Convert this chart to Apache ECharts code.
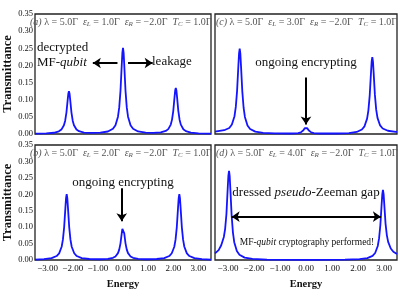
<!DOCTYPE html>
<html><head><meta charset="utf-8">
<script src="https://cdn.jsdelivr.net/npm/echarts@6/dist/echarts.min.js"></script>
<style>html,body{margin:0;padding:0;background:#fff}#c{width:399px;height:291px}</style>
</head><body><div id="c"></div>
<script>
// ---- data ----
const xTicks = [-3, -2, -1, 0, 1, 2, 3];
const yTicks = [0, 0.05, 0.10, 0.15, 0.20, 0.25, 0.30, 0.35];

const energyA = [-3.5,-3.05,-2.75,-2.55,-2.45,-2.35,-2.3,-2.25,-2.2,-2.175,-2.15,-2.125,-2.1,-2.05,-2.0,-1.95,-1.85,-1.75,-1.55,-1.25,-0.9,-0.6,-0.4,-0.3,-0.2,-0.15,-0.1,-0.05,-0.025,0,0.025,0.05,0.1,0.15,0.2,0.3,0.4,0.6,0.9,1.2,1.5,1.7,1.8,1.9,1.95,2.0,2.05,2.075,2.1,2.125,2.15,2.2,2.25,2.3,2.4,2.5,2.7,3.0,3.5];
const transA  = [0.001,0.0018,0.0036,0.0077,0.0128,0.0253,0.0387,0.0625,0.0997,0.1172,0.1245,0.1172,0.0998,0.0626,0.0388,0.0254,0.0131,0.0081,0.0043,0.0031,0.0039,0.0073,0.0152,0.0254,0.0505,0.0776,0.1258,0.2011,0.2365,0.2516,0.2365,0.2011,0.1258,0.0776,0.0505,0.0254,0.0153,0.0074,0.004,0.0033,0.0047,0.0088,0.0142,0.0275,0.042,0.0676,0.1078,0.1267,0.1346,0.1267,0.1077,0.0675,0.0418,0.0273,0.014,0.0084,0.0041,0.0019,0.0009];

const energyB = [-3.5,-3.14,-2.84,-2.64,-2.54,-2.44,-2.39,-2.34,-2.29,-2.265,-2.24,-2.215,-2.19,-2.14,-2.09,-2.04,-1.94,-1.84,-1.64,-1.34,-0.9,-0.6,-0.4,-0.3,-0.2,-0.15,-0.1,-0.05,-0.025,0,0.025,0.05,0.1,0.15,0.2,0.3,0.4,0.6,0.9,1.34,1.64,1.84,1.94,2.04,2.09,2.14,2.19,2.215,2.24,2.265,2.29,2.34,2.39,2.44,2.54,2.64,2.84,3.14,3.5];
const transB  = [0.0014,0.0027,0.0057,0.0121,0.0203,0.0403,0.0619,0.1003,0.1603,0.1885,0.2003,0.1885,0.1603,0.1003,0.0619,0.0403,0.0205,0.0121,0.0058,0.003,0.0023,0.0034,0.0068,0.0108,0.0208,0.0316,0.0508,0.0808,0.0949,0.1008,0.0949,0.0808,0.0508,0.0316,0.0208,0.0108,0.0068,0.0034,0.0023,0.003,0.0058,0.0121,0.0205,0.0403,0.0619,0.1003,0.1603,0.1885,0.2003,0.1885,0.1603,0.1003,0.0619,0.0403,0.0203,0.0121,0.0057,0.0027,0.0014];

const energyC = [-3.5,-3.45,-3.15,-2.95,-2.85,-2.75,-2.7,-2.65,-2.6,-2.575,-2.55,-2.525,-2.5,-2.45,-2.4,-2.35,-2.25,-2.15,-1.95,-1.65,-1.2,-0.6,-0.4,-0.3,-0.2,-0.1,-0.05,0,0.05,0.1,0.2,0.3,0.4,0.6,1.2,1.65,1.95,2.15,2.25,2.35,2.4,2.45,2.5,2.525,2.55,2.575,2.6,2.65,2.7,2.75,2.85,2.95,3.15,3.45,3.5];
const transC  = [0.007,0.0075,0.011,0.0175,0.0275,0.052,0.079,0.1265,0.2005,0.2352,0.249,0.2343,0.1992,0.1245,0.0767,0.0498,0.0249,0.0146,0.0068,0.003,0.0017,0.0014,0.002,0.0028,0.0048,0.0108,0.0168,0.0207,0.0168,0.0108,0.0048,0.0028,0.002,0.0014,0.0015,0.0027,0.006,0.0132,0.0224,0.0448,0.069,0.112,0.1792,0.2108,0.224,0.2118,0.1812,0.114,0.071,0.047,0.025,0.016,0.0095,0.0065,0.0062];

const energyD = [-3.5,-3.36,-3.26,-3.16,-3.11,-3.06,-3.01,-2.985,-2.96,-2.935,-2.91,-2.86,-2.81,-2.76,-2.66,-2.56,-2.36,-2.06,-1.5,0,1.5,2.06,2.36,2.56,2.66,2.76,2.81,2.86,2.91,2.935,2.96,2.985,3.01,3.06,3.11,3.16,3.26,3.36,3.5];
const transD  = [0.02,0.03,0.045,0.07,0.095,0.14,0.22,0.257,0.271,0.255,0.217,0.1355,0.0835,0.0542,0.0271,0.0159,0.0073,0.0033,0.0013,0.0006,0.0011,0.0026,0.0058,0.0125,0.0213,0.0426,0.0656,0.1065,0.1704,0.2004,0.213,0.2004,0.17,0.11,0.075,0.055,0.035,0.025,0.018];

const panelLetters = ['a', 'c', 'b', 'd'];
const epsL = ['1.0', '3.0', '2.0', '4.0'];

// ---- chart ----
const SERIF = '"Liberation Serif", "DejaVu Serif", serif';
const chart = echarts.init(document.getElementById('c'), null, {renderer: 'canvas'});
const grids = [
  {left: 29, top: 14, width: 182, height: 120},
  {left: 215, top: 14, width: 182, height: 120},
  {left: 29, top: 145, width: 182, height: 119},
  {left: 215, top: 145, width: 182, height: 119}
];
const fmtX = v => (v < 0 ? '\u2212' : '') + Math.abs(v).toFixed(2);
const xAxes = grids.map((g, i) => ({
  type: 'value', gridIndex: i, min: -3.5, max: 3.5,
  axisLine: {show: false}, axisTick: {show: false}, splitLine: {show: false},
  axisLabel: {show: i >= 2, customValues: xTicks, formatter: fmtX, fontFamily: SERIF, fontSize: 9, color: '#111', margin: 4},
  name: i >= 2 ? 'Energy' : '', nameLocation: 'middle', nameGap: 19,
  nameTextStyle: {fontFamily: SERIF, fontWeight: 'bold', fontSize: 10.5, color: '#111'}
}));
const yAxes = grids.map((g, i) => ({
  type: 'value', gridIndex: i, min: 0, max: 0.35, interval: 0.05,
  axisLine: {show: false}, axisTick: {show: false}, splitLine: {show: false},
  axisLabel: {show: i % 2 === 0, formatter: v => v.toFixed(2), fontFamily: SERIF, fontSize: 8.5, color: '#111', margin: 2},
  name: i % 2 === 0 ? 'Transmittance' : '', nameLocation: 'middle', nameRotate: 90, nameGap: 21,
  nameTextStyle: {fontFamily: SERIF, fontWeight: 'bold', fontSize: 12.5, color: '#111'}
}));
const zip = (xs, ys) => xs.map((x, k) => [x, ys[k]]);
const arrowStyle = {color: '#000', width: 2, type: 'solid'};
function ml(lines, symbols) {
  return {silent: true, animation: false, symbol: symbols, symbolSize: 8, label: {show: false},
    lineStyle: arrowStyle, data: lines.map(l => [{coord: l[0]}, {coord: l[1]}])};
}
const series = [
  {data: zip(energyA, transA), markLine: ml([[[-0.22, 0.207], [-1.2, 0.207]], [[0.2, 0.207], [1.18, 0.207]]], ['none', 'arrow'])},
  {data: zip(energyC, transC), markLine: ml([[[0, 0.165], [0, 0.028]]], ['none', 'arrow'])},
  {data: zip(energyB, transB), markLine: ml([[[-0.05, 0.218], [-0.05, 0.118]]], ['none', 'arrow'])},
  {data: zip(energyD, transD), markLine: ml([[[-2.86, 0.132], [2.88, 0.132]]], ['arrow', 'arrow'])}
].map((s, i) => Object.assign({
  type: 'line', xAxisIndex: i, yAxisIndex: i, showSymbol: false, symbol: 'none',
  lineStyle: {color: '#1414ff', width: 1.8}, animation: false, clip: true
}, s));

const TF = 10;
const titleRich = {
  i: {fontStyle: 'italic', fontFamily: SERIF, fontSize: TF, fill: '#555', color: '#555'},
  s: {fontStyle: 'italic', fontFamily: SERIF, fontSize: 7, fill: '#555', color: '#555', padding: [5, 0, 0, 0]},
  n: {fontFamily: SERIF, fontSize: TF, fill: '#555', color: '#555'}
};
const titles = grids.map((g, i) => ({
  type: 'text', left: g.left + 1, top: g.top + 3, silent: true,
  style: {
    text: '{i|(' + panelLetters[i] + ')}{n| \u03bb = 5.0\u0393  }{i|\u03b5}{s|L}{n| = ' + epsL[i] + '\u0393  }{i|\u03b5}{s|R}{n| = \u22122.0\u0393  }{i|T}{s|C}{n| = 1.0\u0393}',
    rich: titleRich, fill: '#555', font: TF + 'px ' + SERIF
  }
}));
const annoFont = '13px ' + SERIF;
const annoRich = {
  n: {fontFamily: SERIF, fontSize: 13, fill: '#111', color: '#111'},
  i: {fontFamily: SERIF, fontSize: 13, fontStyle: 'italic', fill: '#111', color: '#111'},
  sn: {fontFamily: SERIF, fontSize: 9.5, fill: '#111', color: '#111'},
  si: {fontFamily: SERIF, fontSize: 9.5, fontStyle: 'italic', fill: '#111', color: '#111'}
};
function txt(x, y, text, align) {
  return {type: 'text', x: x, y: y, silent: true,
    style: {text: text, rich: annoRich, font: annoFont, fill: '#111', align: align || 'center', verticalAlign: 'middle'}};
}
const annotations = [
  txt(37, 48, '{n|decrypted}', 'left'),
  txt(37, 63, '{n|MF-}{i|qubit}', 'left'),
  txt(152, 62, '{n|leakage}', 'left'),
  txt(306, 63, '{n|ongoing encrypting}'),
  txt(123, 183, '{n|ongoing encrypting}'),
  txt(306, 193, '{n|dressed }{i|pseudo}{n|-Zeeman gap}'),
  txt(307, 242, '{sn|MF-}{si|qubit}{sn| cryptography performed!}')
];

chart.setOption({
  animation: false,
  backgroundColor: '#fff',
  grid: grids.map(g => Object.assign({show: true, borderColor: '#222', borderWidth: 1.3, backgroundColor: 'transparent'}, g)),
  xAxis: xAxes,
  yAxis: yAxes,
  series: series,
  graphic: titles.concat(annotations)
});
</script></body></html>
